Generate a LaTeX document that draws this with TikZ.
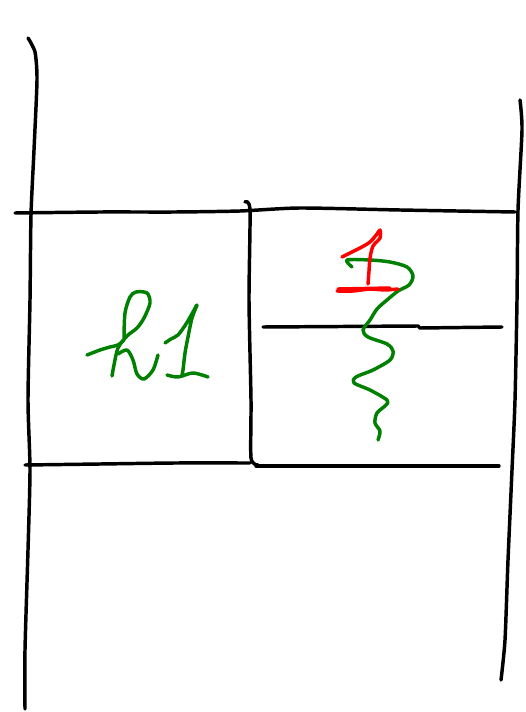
\documentclass[tikz,border=0pt]{standalone}
\definecolor{inkgreen}{RGB}{0,128,0}
\definecolor{inkred}{RGB}{255,0,0}
\tikzset{
  ink/.style={line width=2.6pt, line cap=round, line join=round},
  blackink/.style={ink, black},
  greenink/.style={ink, inkgreen},
  redink/.style={ink, inkred}
}
\begin{document}
\begin{tikzpicture}[x=0.75pt,y=-0.75pt]
\useasboundingbox (0,0) rectangle (525,712);
% left vertical
\draw[blackink] plot[smooth, tension=0.4] coordinates {(28,38) (35,52) (37,80) (34,150) (31,215) (30,300) (28,400) (30,470) (28,550) (25,650) (25,709)};
% right vertical
\draw[blackink] plot[smooth, tension=0.4] coordinates {(520,100) (522,130) (518,210) (517,300) (515,400) (512,470) (508,560) (505,640) (501,680)};
% top horizontal
\draw[blackink] plot[smooth, tension=0.4] coordinates {(15,213) (100,212) (175,212) (240,211) (300,208) (400,210) (515,212)};
% middle vertical
\draw[blackink] plot[smooth, tension=0.4] coordinates {(245,202) (250,210) (249,300) (251,400) (251,458) (258,465)};
% bottom horizontal left
\draw[blackink] plot[smooth, tension=0.4] coordinates {(25,465) (100,464) (175,463) (250,463)};
% bottom horizontal right
\draw[blackink] plot[smooth, tension=0.4] coordinates {(256,466) (350,466) (420,466) (499,466)};
% inner horizontal right
\draw[blackink] (263,327) -- (418,326) -- (420,328) -- (502,327);
% h
\draw[greenink] plot[smooth, tension=0.5] coordinates {(87,355) (100,350) (110,347) (118,345) (124,340)};
\draw[greenink] plot[smooth, tension=0.5] coordinates {(124,338) (125,313) (130,297) (136,292) (147,293) (150,303) (144,318) (137,328) (127,336) (118,348) (114,365) (112,376)};
\draw[greenink] plot[smooth, tension=0.5] coordinates {(118,354) (127,350) (133,360) (137,374) (144,379) (153,370) (158,355)};
% 1
\draw[greenink] plot[smooth, tension=0.5] coordinates {(165,343) (171,339) (178,335) (186,324) (193,312) (197,305) (192,318) (188,337) (185,353) (183,370) (182,375)};
\draw[greenink] plot[smooth, tension=0.5] coordinates {(167,375) (178,377) (193,373) (208,377)};
% green squiggle
\draw[greenink] plot[smooth, tension=0.5] coordinates {(352,267) (347,260) (370,260) (390,262) (407,267) (413,276) (409,285) (398,291) (387,300) (377,309) (370,320) (363,330) (368,337) (387,344) (393,351) (390,360) (373,370) (356,377) (354,383) (370,390) (387,400) (386,405) (377,413) (375,423) (380,431) (378,440)};
% red 1
\draw[redink] plot[smooth, tension=0.5] coordinates {(342,257) (350,253) (360,248) (370,242) (377,234) (380,230) (380,238) (373,246) (370,258) (369,271) (368,284)};
\draw[redink] plot[smooth, tension=0.3] coordinates {(337,291) (353,291) (370,289) (385,290) (398,289)};
\draw[redink] (338,289) -- (390,288);
\end{tikzpicture}
\end{document}
